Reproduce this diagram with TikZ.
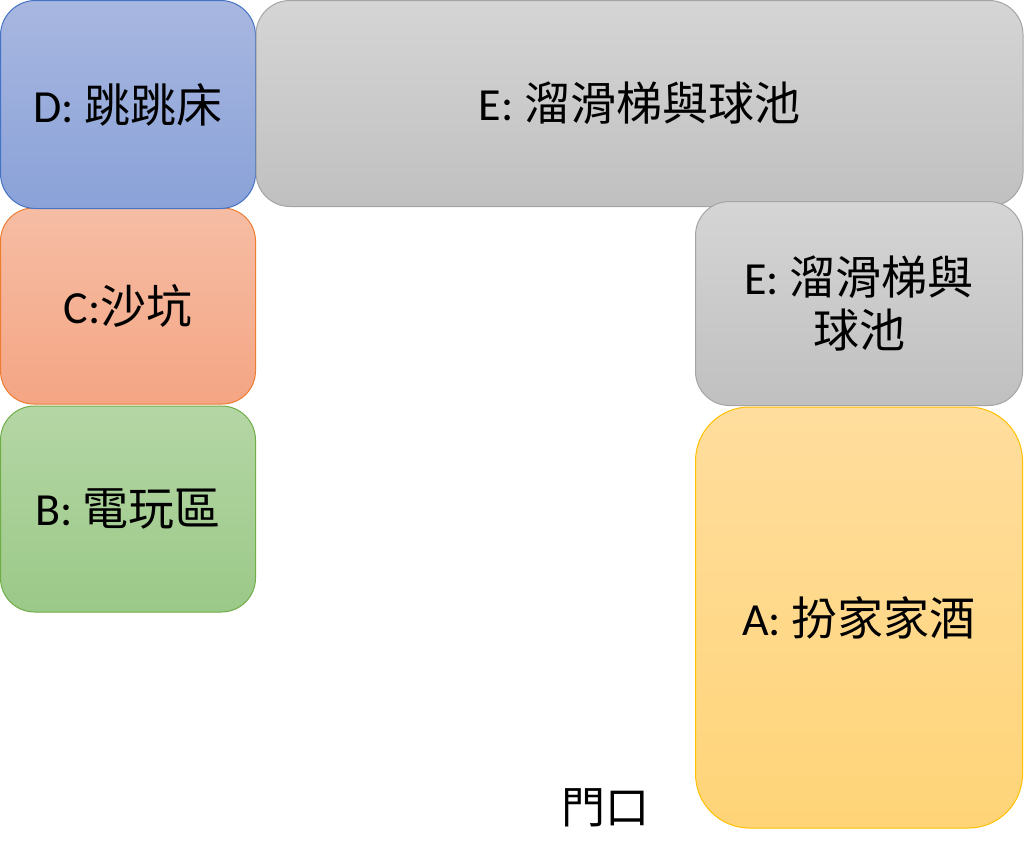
\documentclass[tikz,border=0pt]{standalone}
\usepackage{fontspec}
\setmainfont{Carlito}
\newfontfamily\cjk{Noto Sans CJK TC}
\definecolor{dTop}{HTML}{A8B7E0}\definecolor{dBot}{HTML}{8AA2D8}\definecolor{dLine}{HTML}{4472C4}
\definecolor{eTop}{HTML}{D5D5D5}\definecolor{eBot}{HTML}{C0C0C0}\definecolor{eLine}{HTML}{A5A5A5}
\definecolor{cTop}{HTML}{F6BDA4}\definecolor{cBot}{HTML}{F4A584}\definecolor{cLine}{HTML}{ED7D31}
\definecolor{bTop}{HTML}{B5D6A5}\definecolor{bBot}{HTML}{9BC988}\definecolor{bLine}{HTML}{70AD47}
\definecolor{aTop}{HTML}{FFDD9D}\definecolor{aBot}{HTML}{FFD478}\definecolor{aLine}{HTML}{FFC000}
\begin{document}
\begin{tikzpicture}[x=1pt,y=-1pt,
  zone/.style={rectangle, inner sep=0pt, line width=1pt, align=center,
    font=\fontsize{46}{53}\selectfont, text=black},
  dzone/.style={zone, draw=dLine, top color=dTop, bottom color=dBot},
  ezone/.style={zone, draw=eLine, top color=eTop, bottom color=eBot},
  czone/.style={zone, draw=cLine, top color=cTop, bottom color=cBot},
  bzone/.style={zone, draw=bLine, top color=bTop, bottom color=bBot},
  azone/.style={zone, draw=aLine, top color=aTop, bottom color=aBot},
  lbl/.style={inner sep=0pt, font=\fontsize{44}{53}\selectfont}]
\useasboundingbox[fill=white] (0,0) rectangle (1024,862);
\node[czone, rounded corners=33pt, minimum width=255pt, minimum height=196pt] (C) at (128,306) {C:{\cjk 沙坑}};
\node[bzone, rounded corners=34pt, minimum width=255pt, minimum height=206pt] (B) at (128,509) {B: {\cjk 電玩區}};
\node[dzone, rounded corners=35pt, minimum width=255pt, minimum height=208pt] (D) at (128,104.5) {D: {\cjk 跳跳床}};
\node[ezone, rounded corners=34pt, minimum width=767pt, minimum height=206pt] (E1) at (639.5,103.5) {E: {\cjk 溜滑梯與球池}};
\node[azone, rounded corners=54pt, minimum width=327pt, minimum height=421pt] (A) at (859,617.5) {A: {\cjk 扮家家酒}};
\node[ezone, rounded corners=34pt, minimum width=327pt, minimum height=204pt] (E2) at (859,303.5) {E: {\cjk 溜滑梯與}\\{\cjk 球池}};
\node[lbl] (door) at (605,808) {\cjk 門口};
\end{tikzpicture}
\end{document}
